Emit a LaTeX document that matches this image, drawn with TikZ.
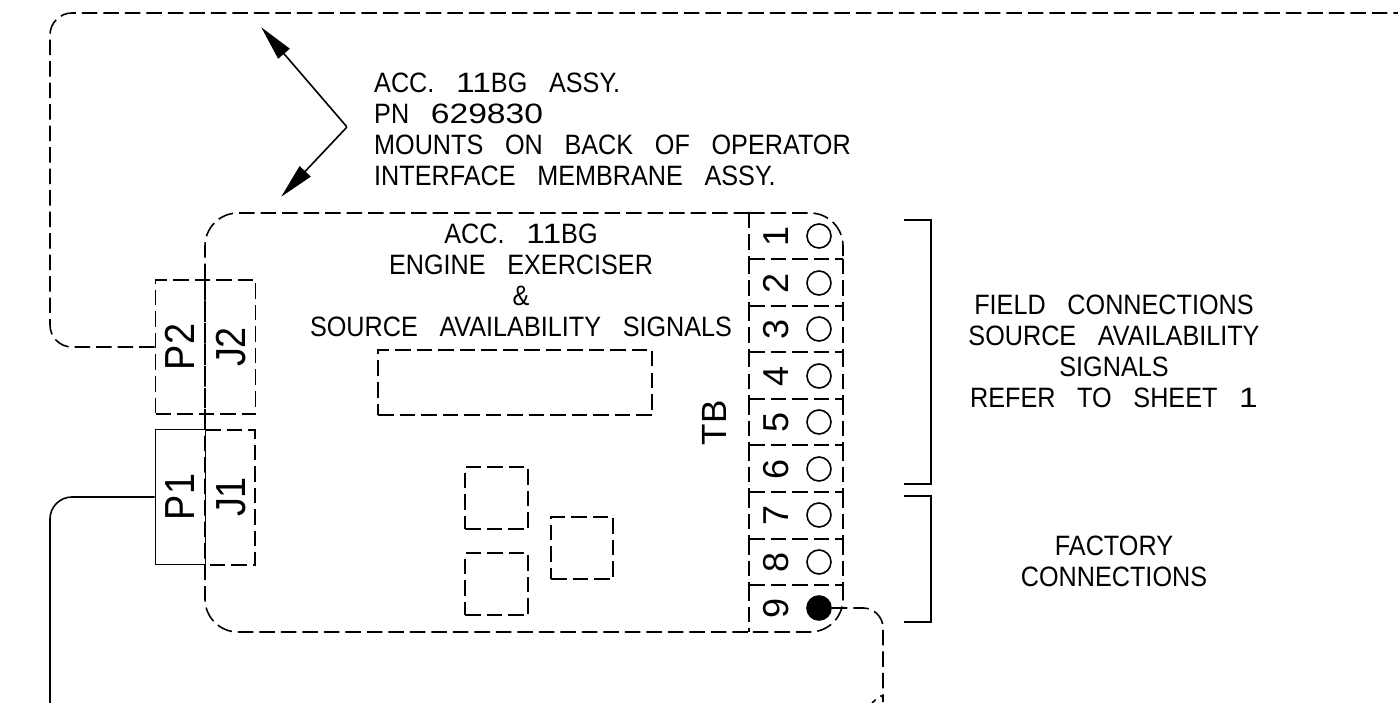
\documentclass[tikz,border=0pt]{standalone}
\usepackage{fontspec}
\setmainfont[WordSpace=3.1,FakeStretch=0.9]{Liberation Sans}
\newfontfamily\digitfont{Liberation Sans}
\newfontfamily\widefont[FakeStretch=1.2]{Liberation Sans}
\newcommand{\wdg}[1]{{\widefont #1}}
\usetikzlibrary{arrows.meta}
\tikzset{
 x=1pt,y=-1pt,
 wire/.style={line width=1.6pt,black},
 dashln/.style={wire,dash pattern=on 15.5pt off 6pt},
 lbl/.style={inner sep=0pt,font=\fontsize{28}{31}\selectfont,align=center,text=black},
 lbll/.style={lbl,align=left,anchor=west},
 rotd/.style={inner sep=0pt,rotate=90,font=\digitfont\fontsize{36}{36}\selectfont},
 rotp/.style={inner sep=0pt,rotate=90,font=\fontsize{42}{42}\selectfont},
 rottb/.style={inner sep=0pt,rotate=90,font=\digitfont\fontsize{35}{35}\selectfont},
 term/.style={circle,draw,wire,minimum size=24pt,inner sep=0pt},
 boxd/.style={dashln,rectangle,draw,inner sep=0pt},
 pt/.style={inner sep=0pt,minimum size=0pt},
 arr/.style={wire,-{Stealth[inset=0pt,length=35pt,width=15pt]}},
}
\begin{document}
\begin{tikzpicture}
\useasboundingbox (0,0) rectangle (1398,703);
% main board
\draw[dashln,rounded corners=33pt] (749,213) -- (205,213) -- (205,632) -- (749,632);
\draw[dashln,rounded corners=33pt] (749,213) -- (843,213) -- (843,259);
\draw[dashln,rounded corners=33pt] (843,585) -- (843,632) -- (749,632);
\foreach \a/\b in {213/259,259/306,306/352,352/399,399/445,445/492,492/539,539/585,585/632}
  \draw[dashln] (749,\a) -- (749,\b);
\foreach \a/\b in {259/306,306/352,352/399,399/445,445/492,492/539,539/585}
  \draw[dashln] (843,\a) -- (843,\b);
\foreach \y in {259,306,352,399,445,492,539,585}
  \draw[dashln] (749,\y) -- (843,\y);
% terminals
\foreach \n/\y in {1/236,2/283,3/329,4/376,5/422,6/469,7/515,8/562}{
  \node[term] (t\n) at (819,\y) {};
  \node[rotd] (d\n) at (776,\y) {\n};
}
\node[term,fill=black] (t9) at (819,608) {};
\node[rotd] (d9) at (776,608) {9};
\node[rottb] (tb) at (714,423) {TB};
% connectors
\node[boxd,minimum width=100pt,minimum height=134pt] (p2) at (205.5,347) {};
\draw[dashln] (205,280) -- (205,414);
\node[rotp] (p2t) at (180,347) {P2};
\node[rotp] (j2t) at (231,347) {J2};
\node[draw,wire,minimum width=50pt,minimum height=135pt,inner sep=0pt] (p1) at (180.5,497) {};
\node[rotp] (p1t) at (180,497) {P1};
\node[rotp] (j1t) at (231,497) {J1};
\draw[dashln] (205,430) -- (255,430) -- (255,565) -- (205,565);
% other board parts
\node[boxd,minimum width=274pt,minimum height=65pt] (disp) at (515,382.5) {};
\node[boxd,minimum width=63pt,minimum height=62pt] (s1) at (496.5,498) {};
\node[boxd,minimum width=63pt,minimum height=62pt] (s2) at (496.5,584) {};
\node[boxd,minimum width=62pt,minimum height=62pt] (s3) at (582,548) {};
% wires
\coordinate (topend) at (1398,13);
\coordinate (botl) at (50,703);
\coordinate (botr) at (872,703);
\draw[dashln,rounded corners=22pt] (p2.west) -- (50,347) -- (50,13) -- (topend);
\draw[wire,rounded corners=22pt] (p1.west) -- (50,497) -- (botl);
\draw[dashln] (t9.east) [rounded corners=20pt] -- (883,608) -- (883,682) [sharp corners] .. controls (883,690) and (879,697) .. (botr);
% brackets
\node[pt] (b1a) at (904,220) {}; \node[pt] (b1b) at (904,484) {};
\node[pt] (b2a) at (904,496) {}; \node[pt] (b2b) at (904,622) {};
\draw[wire] (b1a) -- (931,220) -- (931,484) -- (b1b);
\draw[wire] (b2a) -- (931,496) -- (931,622) -- (b2b);
% leader
\node[pt] (lead) at (347,127) {};
\node[pt] (a1) at (261,27) {};
\node[pt] (a2) at (281,197) {};
\draw[arr] (lead) -- (a1);
\draw[arr] (lead) -- (a2);
% text
\node[lbll] (note) at (374,129.5) {ACC. \wdg{11}BG ASSY.\\PN \wdg{629830}\\MOUNTS ON BACK OF OPERATOR\\INTERFACE MEMBRANE ASSY.};
\node[lbl] (title) at (521,280) {ACC. \wdg{11}BG\\ENGINE EXERCISER\\\&\\SOURCE AVAILABILITY SIGNALS};
\node[lbl] (field) at (1114,351) {FIELD CONNECTIONS\\SOURCE AVAILABILITY\\SIGNALS\\REFER TO SHEET \wdg{1}};
\node[lbl] (fact) at (1114,561) {FACTORY\\CONNECTIONS};
\end{tikzpicture}
\end{document}
